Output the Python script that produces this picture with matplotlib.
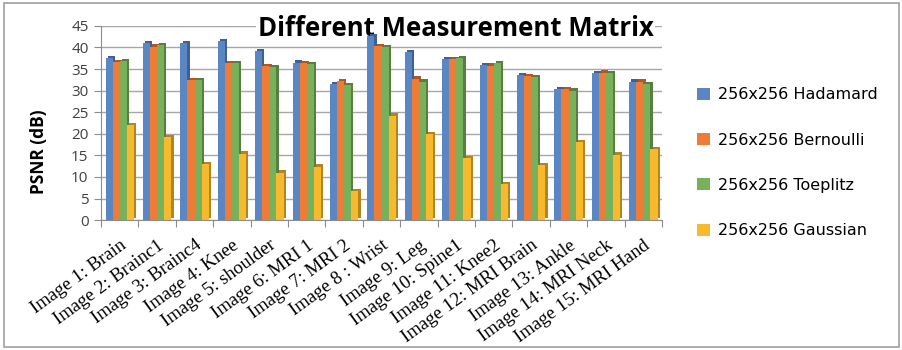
import numpy as np
import matplotlib
matplotlib.use("Agg")
import matplotlib.pyplot as plt
from matplotlib.transforms import offset_copy
from matplotlib.patches import Rectangle
from matplotlib.colors import to_rgb

categories = [
    "Image 1: Brain", "Image 2: Brainc1", "Image 3: Brainc4", "Image 4: Knee",
    "Image 5: shoulder", "Image 6: MRI 1", "Image 7: MRI 2", "Image 8 : Wrist",
    "Image 9: Leg", "Image 10: Spine1", "Image 11: Knee2", "Image 12: MRI Brain",
    "Image 13: Ankle", "Image 14: MRI Neck", "Image 15: MRI Hand",
]
hadamard = [37.5, 41.0, 41.1, 41.4, 39.2, 36.5, 31.5, 42.6, 39.0, 37.4, 35.9, 33.6, 30.3, 34.1, 32.1]
bernoulli = [36.6, 40.2, 32.4, 36.4, 35.6, 36.3, 32.2, 40.3, 32.8, 37.4, 35.8, 33.3, 30.3, 34.2, 32.1]
toeplitz = [36.8, 40.6, 32.4, 36.3, 35.4, 36.1, 31.3, 40.0, 32.1, 37.5, 36.4, 33.1, 30.0, 34.0, 31.5]
gaussian = [22.1, 19.2, 13.0, 15.4, 11.0, 12.4, 6.7, 24.2, 20.0, 14.4, 8.3, 12.8, 18.0, 15.2, 16.5]
series_names = ["256x256 Hadamard", "256x256 Bernoulli", "256x256 Toeplitz", "256x256 Gaussian"]
yticks = [0, 5, 10, 15, 20, 25, 30, 35, 40, 45]

colors = ["#5A86C4", "#EE7B36", "#78B15A", "#F7B92E"]

fig = plt.figure(figsize=(9.02, 3.5), dpi=100)
ax = fig.add_axes([0.112, 0.371, 0.622, 0.555])

x = np.arange(len(categories))
w = 0.19
series = [hadamard, bernoulli, toeplitz, gaussian]

# depth faces drawn slightly up-right of each bar
depth = offset_copy(ax.transData, fig=fig, x=2.2, y=2.2, units="dots")
for i, (vals, col) in enumerate(zip(series, colors)):
    pos = x + (i - 1.5) * w
    dark = tuple(c * 0.72 for c in to_rgb(col))
    ax.bar(pos, vals, width=w, color=dark, transform=depth, zorder=3 + i * 2, linewidth=0)
    ax.bar(pos, vals, width=w, color=col, zorder=4 + i * 2, linewidth=0, label=series_names[i])

ax.set_xlim(-0.5, len(categories) - 0.5)
ax.set_ylim(0, 45)
ax.set_yticks(yticks)
ax.yaxis.grid(True, color="#A6A6A6", linewidth=1.0, zorder=0)
ax.set_axisbelow(True)
for s in ["top", "right"]:
    ax.spines[s].set_visible(False)
ax.spines["left"].set_color("#8C8C8C")
ax.spines["bottom"].set_color("#8C8C8C")
ax.tick_params(axis="y", length=5, color="#8C8C8C", labelsize=11, labelcolor="#404040", pad=4)
for lab in ax.get_yticklabels():
    lab.set_family("Open Sans")

ax.set_xticks(np.arange(len(categories) + 1) - 0.5, minor=False)
ax.set_xticklabels([])
ax.tick_params(axis="x", length=5, color="#8C8C8C")
ax.set_xticks(x, minor=True)
ax.set_xticklabels(categories, minor=True, rotation=36, ha="right", va="top",
                   rotation_mode="anchor", family="Liberation Serif", fontsize=13.6)
ax.tick_params(axis="x", which="minor", length=0, pad=12)

ax.set_ylabel("PSNR (dB)", fontsize=12.5, fontweight="bold", family="Open Sans")
ax.yaxis.set_label_coords(-0.094, 0.35)

# title sits over the gridlines but beneath the bars
ax.text(0.505, 0.918, "Different Measurement Matrix", transform=fig.transFigure,
        ha="center", va="center", fontsize=18.5, fontweight="bold", family="Open Sans",
        zorder=2, bbox=dict(facecolor="white", edgecolor="none", pad=1))

handles, labels = ax.get_legend_handles_labels()
leg = fig.legend(handles, labels, loc="center left", bbox_to_anchor=(0.757, 0.535),
                 frameon=False, handlelength=0.8, handleheight=0.8,
                 labelspacing=1.9, handletextpad=0.5, prop={"family": "DejaVu Sans", "size": 11.5})

fig.patches.append(Rectangle((0.004, 0.008), 0.993, 0.983, transform=fig.transFigure,
                             fill=False, edgecolor="#A0A0A0", linewidth=1.2))

fig.savefig("out.png", dpi=100)
